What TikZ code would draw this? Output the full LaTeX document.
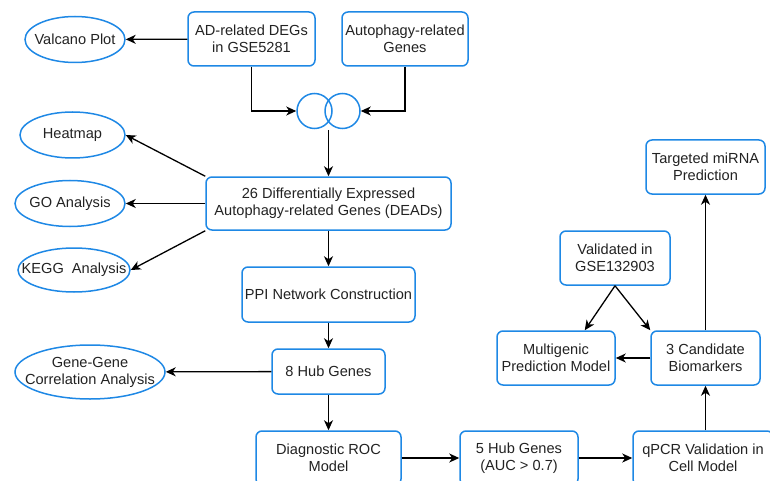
\documentclass[tikz,border=0pt]{standalone}
\usepackage{fontspec}
\setmainfont{Liberation Sans}
\usetikzlibrary{shapes.geometric,arrows.meta}
\definecolor{boxblue}{RGB}{30,136,229}
\definecolor{txtgray}{RGB}{34,34,34}
\begin{document}
\begin{tikzpicture}[x=1pt,y=1pt,yscale=-1,xscale=1,
    box/.style={draw=boxblue, line width=1.5pt, rounded corners=6pt, align=center, inner sep=0pt,
      text=txtgray, font=\fontsize{14.6}{17}\selectfont},
    oval/.style={draw=boxblue, line width=1.5pt, ellipse, inner sep=0pt},
    ovaltxt/.style={align=center, inner sep=0pt, text=txtgray, font=\fontsize{14.6}{17}\selectfont},
    venn/.style={draw=boxblue, line width=1.5pt, circle, inner sep=0pt, minimum size=35},
    arr/.style={-{Stealth[length=10pt,width=9pt,inset=3pt]}, line width=1.3pt, black, line join=miter}]
    \useasboundingbox (0,0) rectangle (770,481);

    % input boxes
    \node[box, minimum width=127, minimum height=54] (adgenes) at (251.5,39) {AD-related DEGs\\in GSE5281};
    \node[box, minimum width=126, minimum height=54] (autogenes) at (405,39) {Autophagy-related\\Genes};
    % Venn
    \node[venn] (vennl) at (314.5,111) {};
    \node[venn] (vennr) at (342.5,111) {};
    \coordinate (vennbot) at (328.5,130);

    % main column
    \node[box, minimum width=245, minimum height=53] (deads) at (328.5,203.5) {26 Differentially Expressed\\Autophagy-related Genes (DEADs)};
    \node[box, minimum width=173, minimum height=55] (ppi) at (328.5,294.5) {PPI Network Construction};
    \node[box, minimum width=113, minimum height=45] (hub8) at (328.5,371.5) {8 Hub Genes};
    \node[box, minimum width=145, minimum height=54] (roc) at (328.5,458) {Diagnostic ROC\\Model};
    \node[box, minimum width=118, minimum height=54] (hub5) at (519,458) {5 Hub Genes\\(AUC {>} 0.7)};
    \node[box, minimum width=140, minimum height=54] (qpcr) at (703,458) {qPCR Validation in\\Cell Model};
    \node[box, minimum width=109, minimum height=54] (cand) at (705.5,358) {3 Candidate\\Biomarkers};
    \node[box, minimum width=118, minimum height=54] (multi) at (556,358) {Multigenic\\Prediction Model};
    \node[box, minimum width=110, minimum height=54] (valid) at (615,258) {Validated in\\GSE132903};
    \node[box, minimum width=119, minimum height=54] (mirna) at (705.5,167) {Targeted miRNA\\Prediction};

    % ovals
    \node[oval, minimum width=100, minimum height=46, label={[ovaltxt]center:Valcano Plot}] (valcano) at (75,39.5) {};
    \node[oval, minimum width=105, minimum height=46, label={[ovaltxt]center:Heatmap}] (heatmap) at (72.5,135) {};
    \node[oval, minimum width=110, minimum height=46, label={[ovaltxt]center:GO Analysis}] (goan) at (70,203.5) {};
    \node[oval, minimum width=112, minimum height=44, label={[ovaltxt]center:KEGG\ \ Analysis}] (kegg) at (74,270) {};
    \node[oval, minimum width=150, minimum height=54, label={[ovaltxt]center:Gene-Gene\\Correlation Analysis}] (genegene) at (90,372) {};

    % connectors
    \draw[arr] (adgenes) -- (valcano);
    \draw[arr] (adgenes.south) |- (vennl.west);
    \draw[arr] (autogenes.south) |- (vennr.east);
    \draw[arr] (vennbot) -- (deads.north);
    \draw[arr] (deads.north west) -- (heatmap.east);
    \draw[arr] (deads.west) -- (goan.east);
    \draw[arr] (deads.south west) -- (kegg.east);
    \draw[arr] (deads) -- (ppi);
    \draw[arr] (ppi) -- (hub8);
    \draw[arr] (hub8) -- (genegene);
    \draw[arr] (hub8) -- (roc);
    \draw[arr] (roc) -- (hub5);
    \draw[arr] (hub5) -- (qpcr);
    \draw[arr] (qpcr.north -| cand) -- (cand);
    \draw[arr] (cand) -- (multi);
    \draw[arr] (cand) -- (mirna);
    \draw[arr] (valid.south) -- (multi.44);
    \draw[arr] (valid.south) -- (cand.north west);
\end{tikzpicture}
\end{document}
